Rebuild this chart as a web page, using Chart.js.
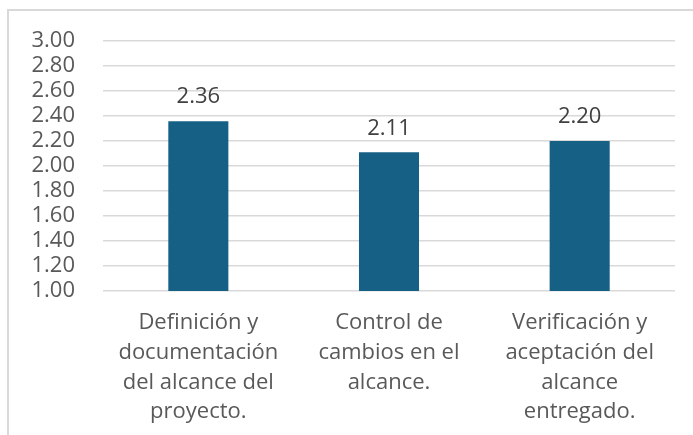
<!DOCTYPE html>
<html>
<head>
<meta charset="utf-8">
<script src="https://cdn.jsdelivr.net/npm/chart.js@4"></script>
<style>
  html, body { margin: 0; padding: 0; background: #fff; }
  #wrap { position: relative; width: 693px; height: 435px; overflow: hidden; }
  #frame {
    position: absolute; left: 7px; top: 9px; width: 800px; height: 600px;
    border-top: 2px solid #d9d9d9; border-left: 2px solid #d9d9d9;
  }
  canvas { position: absolute; left: 0; top: 0; }
</style>
</head>
<body>
<div id="wrap">
  <div id="frame"></div>
  <canvas id="chart" width="693" height="435"></canvas>
</div>
<script>
// Chart data
const categories = [
  ["Definición y", "documentación", "del alcance del", "proyecto."],
  ["Control de", "cambios en el", "alcance."],
  ["Verificación y", "aceptación del", "alcance", "entregado."]
];
const values = [2.36, 2.11, 2.20];
const yTicks = [1.0, 1.2, 1.4, 1.6, 1.8, 2.0, 2.2, 2.4, 2.6, 2.8, 3.0];

const FONT = "'Open Sans', Roboto, sans-serif";

// Value labels above each bar
const barLabels = {
  id: "barLabels",
  afterDatasetsDraw(chart) {
    const ctx = chart.ctx;
    const meta = chart.getDatasetMeta(0);
    ctx.save();
    ctx.font = "22px " + FONT;
    ctx.fillStyle = "#404040";
    ctx.textAlign = "center";
    ctx.textBaseline = "middle";
    meta.data.forEach((bar, i) => {
      ctx.fillText(values[i].toFixed(2), bar.x, bar.y - 24);
    });
    ctx.restore();
  }
};

new Chart(document.getElementById("chart"), {
  type: "bar",
  data: {
    labels: categories,
    datasets: [{
      data: values,
      backgroundColor: "#176085",
      categoryPercentage: 1,
      barPercentage: 0.315
    }]
  },
  options: {
    responsive: false,
    animation: false,
    devicePixelRatio: 1,
    layout: { padding: { top: 38, right: 18, left: 0, bottom: 0 } },
    plugins: { legend: { display: false }, tooltip: { enabled: false } },
    scales: {
      x: {
        grid: { display: false, drawTicks: false },
        border: { display: false },
        afterFit: (s) => { s.height = 144; },
        ticks: {
          color: "#595959",
          padding: 17,
          maxRotation: 0,
          autoSkip: false,
          font: { family: FONT, size: 22, lineHeight: 1.35 }
        }
      },
      y: {
        min: 1,
        max: 3,
        afterFit: (s) => { s.width = 103; },
        afterBuildTicks: (s) => { s.ticks = yTicks.map((v) => ({ value: v })); },
        grid: { color: "#d9d9d9", lineWidth: 1.5, drawTicks: false },
        border: { display: false },
        ticks: {
          color: "#595959",
          padding: 28,
          autoSkip: false,
          font: { family: FONT, size: 22 },
          callback: (v) => Number(v).toFixed(2)
        }
      }
    }
  },
  plugins: [barLabels]
});
</script>
</body>
</html>
